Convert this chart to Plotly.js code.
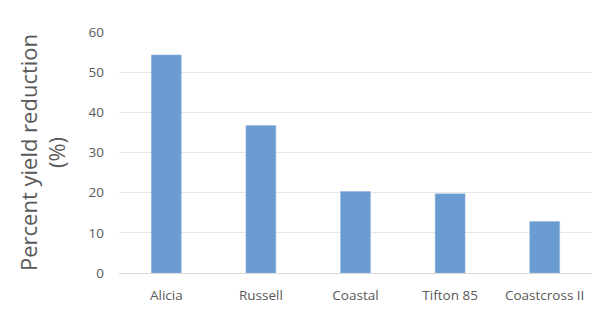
<!DOCTYPE html>
<html>
<head>
<meta charset="utf-8">
<script src="https://cdn.plot.ly/plotly-3.0.1.min.js"></script>
<style>html,body{margin:0;padding:0;background:#fff;}</style>
</head>
<body>
<div id="chart" style="width:600px;height:310px;"></div>
<script>
var categories = ["Alicia", "Russell", "Coastal", "Tifton 85", "Coastcross II"];
var yieldReduction = [54.3, 36.7, 20.3, 19.7, 12.8];
var yTickValues = [0, 10, 20, 30, 40, 50, 60];

var trace = {
  type: "bar",
  x: categories,
  y: yieldReduction,
  marker: {color: "#6a9bd1", line: {color: "#8fb4de", width: 0.5}},
  hoverinfo: "x+y"
};

var layout = {
  width: 600,
  height: 310,
  margin: {l: 119, r: 8, t: 31.5, b: 36.5},
  paper_bgcolor: "#ffffff",
  plot_bgcolor: "#ffffff",
  bargap: 0.684,
  showlegend: false,
  font: {family: "Open Sans, Liberation Sans, Arial, sans-serif", color: "#595959", size: 13},
  xaxis: {
    type: "category",
    showgrid: false,
    showline: true,
    linecolor: "#d9d9d9",
    linewidth: 1,
    ticks: "",
    ticklabelstandoff: 10,
    tickfont: {size: 13.5, color: "#595959"},
    automargin: false
  },
  yaxis: {
    range: [0, 60],
    tickvals: yTickValues,
    showgrid: true,
    gridcolor: "#e6e6e6",
    gridwidth: 1,
    zeroline: false,
    showline: false,
    ticks: "",
    ticklabelstandoff: 14,
    tickfont: {size: 13.5, color: "#595959"},
    title: {
      text: "Percent yield reduction<br>(%)",
      font: {size: 22, color: "#595959"},
      standoff: 16
    },
    automargin: false
  }
};

Plotly.newPlot("chart", [trace], layout, {displayModeBar: false, staticPlot: true});
</script>
</body>
</html>
